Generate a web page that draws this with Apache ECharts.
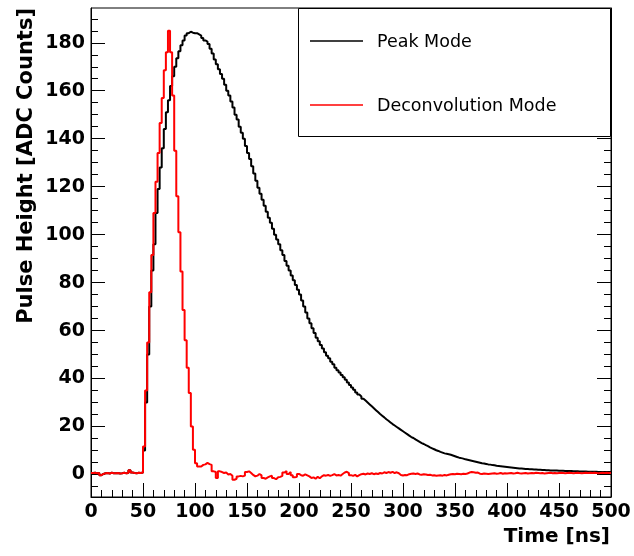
<!DOCTYPE html>
<html><head><meta charset="utf-8">
<script src="https://cdn.jsdelivr.net/npm/echarts@6/dist/echarts.min.js"></script>
<style>html,body{margin:0;padding:0;background:#fff}#c{width:634px;height:556px}</style>
</head><body><div id="c"></div>
<script>
// ---- data ----
const binWidth = 2; // ns per histogram bin
const xRange = [0, 500];
const yRange = [-9.4, 194.5];
const xTickStep = 50;
const yMajorTicks = [0, 20, 40, 60, 80, 100, 120, 140, 160, 180];
const yMinorTicks = [-5, 5, 10, 15, 25, 30, 35, 45, 50, 55, 65, 70, 75, 85, 90, 95, 105, 110, 115, 125, 130, 135, 145, 150, 155, 165, 170, 175, 185, 190];
const seriesNames = ['Peak Mode', 'Deconvolution Mode'];

const peakMode = [
  0.6,0.7,0.5,0.6,-0.3,0.2,0.5,0.6,0.4,0.7, 0.5,0.5,0.6,0.4,0.5,0.7,0.5,0.6,1.8,0.8, 0.6,0.5,0.7,0.6,0.8,
  10,30,50,70,85, 96,109,119,128,136, 144,151,156,162,166, 170,173.5,176.5,179,181, 183,184,184.6,184.2,184,
  184,183.5,183,182,181, 180.5,179.5,177.5,175.5,173, 171,169,167,165,162.5, 160,158,155.5,153,150, 148,145,142.5,140,137,
  134,131.5,128.5,125.5,122.5, 119.5,117,114.5,112,109.5, 107,105,102.5,100,98, 96,93.5,91.5,89,87, 85,83,81,79,77,
  75,72.5,70,67.5,65, 63,61,59,57,55.5, 54,52.5,51,49.5,48.5, 47,46,44.5,43.5,42.5, 41.5,40.5,39.5,38.3,37.3,
  36.3,35.3,34.2,33.3,32.5, 31.6,30.8,30,29.2,28.4, 27.6,26.8,26,25.2,24.5, 23.8,23,22.4,21.7,21, 20.4,19.8,19.2,18.6,18,
  17.4,16.8,16.2,15.6,15.2, 14.6,14.1,13.6,13.1,12.7, 12.2,11.8,11.3,10.9,10.5, 10.1,9.8,9.4,9.1,8.8, 8.6,8.4,8.2,7.9,7.6,
  7.3,7,6.8,6.6,6.3, 6.1,5.9,5.7,5.5,5.3, 5.1,4.9,4.7,4.6,4.4, 4.2,4.1,3.9,3.8,3.6, 3.5,3.4,3.3,3.2,3.1,
  3,2.9,2.8,2.7,2.6, 2.5,2.45,2.4,2.3,2.25, 2.2,2.15,2.1,2.05,2, 1.95,1.9,1.85,1.8,1.75, 1.7,1.65,1.6,1.6,1.55,
  1.5,1.5,1.45,1.4,1.4, 1.4,1.35,1.3,1.3,1.25, 1.25,1.2,1.2,1.15,1.15, 1.1,1.1,1.1,1.05,1.05, 1.05,1,1,1,1
];

const deconvMode = [
  0.6,0.7,0.5,0.6,-0.3,0.2,0.5,0.6,0.4,0.7, 0.5,0.5,0.6,0.4,0.5,0.7,0.5,0.6,1.8,0.8, 0.6,0.5,0.7,0.6,0.8,
  11.7,35,55,76,91.5, 109,122,134,146.5,157, 168.5,176,185,176,158, 135,116,101,84.6,68.6, 56,44.5,34,20,10.3,
  4.7,3.3,3.3,4,4.2, 4.8,4.3,4,1.3,1, -1.5,1.3,1,0.6,0.8, 0,0.2,-0.5,-2.2,-1.8, -0.8,-0.6,-0.8,-0.5,1,
  1.3,0.6,-0.2,-0.8,-0.5, 0.2,-0.4,-1.5,-1.8,-1.2, -0.8,-0.5,-1.5,-2,-1.2, -1,-0.6,0.8,1.4,0.2, 1,-0.3,-1.2,-1,0.2,
  -0.3,-0.5,0,-0.4,-0.8, -1.5,-1.2,-1.8,-1,-1.6, -0.8,-0.3,-0.5,-0.2,-0.6, -0.3,0.1,-0.4,-0.2,-0.5, 0.2,0.8,1.1,0.6,-0.3,
  -0.6,-0.2,-0.8,-0.3,0.1, 0.3,0,0.4,0.2,0.5, 0.1,0.4,0.2,0.6,0.4, 0.9,0.6,1,0.7,1.1, 0.6,0.9,0.5,-0.2,-0.4,
  -0.2,-0.3,0.1,0.3,0.4, 0.2,0.4,0,-0.1,0.1, 0,-0.2,-0.1,-0.4,-0.3, -0.5,-0.4,-0.3,-0.5,-0.2, -0.4,-0.1,0.1,0.2,0.1,
  0.3,0.2,0.1,0.3,0.2, 0.4,0.8,1,0.9,0.7, 0.8,0.3,0.2,0.4,0.3, 0.2,0.3,0.4,0.5,0.3, 0.4,0.6,0.3,0.5,0.4,
  0.5,0.6,0.4,0.5,0.7, 0.5,0.4,0.5,0.6,0.4, 0.5,0.6,0.5,0.7,0.6, 0.5,0.6,0.4,0.5,0.6, 0.7,0.5,0.6,0.5,0.6,
  0.7,0.6,0.5,0.6,0.7, 0.6,0.5,0.6,0.7,0.6, 0.5,0.6,0.7,0.6,0.7, 0.6,0.7,0.6,0.5,0.6, 0.7,0.6,0.7,0.6,0.7
];

// ---- build histogram step points from bins ----
function toSteps(vals) {
  const pts = vals.map((v, i) => [i * binWidth, v]);
  pts.push([vals.length * binWidth, vals[vals.length - 1]]);
  return pts;
}

const FONT = 'DejaVu Sans';
const black = '#000000';

function yAxisDef(position, ticks, len, showLabel, showLine) {
  return {
    type: 'value', position: position, min: yRange[0], max: yRange[1],
    axisLine: { show: showLine, onZero: false, lineStyle: { color: black, width: 1 } },
    axisTick: { show: true, inside: true, length: len, customValues: ticks, lineStyle: { color: black, width: 1 } },
    minorTick: { show: false },
    axisLabel: showLabel ? { show: true, customValues: ticks, color: black, fontFamily: FONT, fontWeight: 'bold', fontSize: 19, margin: 6 } : { show: false },
    splitLine: { show: false }
  };
}

const chart = echarts.init(document.getElementById('c'), null, { renderer: 'canvas' });
chart.setOption({
  animation: false,
  backgroundColor: '#ffffff',
  grid: { left: 91, right: 23, top: 8, bottom: 59, show: true, borderColor: black, borderWidth: 1, backgroundColor: 'transparent' },
  xAxis: {
    type: 'value', min: xRange[0], max: xRange[1], interval: xTickStep, position: 'bottom',
    axisLine: { show: true, onZero: false, lineStyle: { color: black, width: 1 } },
    axisTick: { show: true, inside: true, length: 14, lineStyle: { color: black, width: 1 } },
    minorTick: { show: true, splitNumber: 5, length: 7, lineStyle: { color: black, width: 1 } },
    axisLabel: { color: black, fontFamily: FONT, fontWeight: 'bold', fontSize: 19, margin: 6, showMinLabel: true, showMaxLabel: true },
    splitLine: { show: false }
  },
  yAxis: [
    yAxisDef('left', yMajorTicks, 14, true, true),
    yAxisDef('left', yMinorTicks, 7, false, false),
    yAxisDef('right', yMajorTicks, 14, false, true),
    yAxisDef('right', yMinorTicks, 7, false, false)
  ],
  series: [
    { name: seriesNames[0], type: 'line', step: 'end', data: toSteps(peakMode), yAxisIndex: 0,
      symbol: 'none', lineStyle: { color: black, width: 2 }, z: 2 },
    { name: seriesNames[1], type: 'line', step: 'end', data: toSteps(deconvMode), yAxisIndex: 0,
      symbol: 'none', lineStyle: { color: '#ff0000', width: 2 }, z: 3 }
  ],
  graphic: [
    { type: 'rect', z: 100, shape: { x: 298.5, y: 8.5, width: 312, height: 128 }, style: { fill: '#ffffff', stroke: black, lineWidth: 1 } },
    { type: 'line', z: 101, shape: { x1: 310, y1: 41, x2: 363, y2: 41 }, style: { stroke: black, lineWidth: 1.5 } },
    { type: 'text', z: 101, x: 377, y: 42.5, style: { text: seriesNames[0], fontFamily: FONT, fontSize: 17.5, fill: black, align: 'left', verticalAlign: 'middle' } },
    { type: 'line', z: 101, shape: { x1: 310, y1: 105, x2: 363, y2: 105 }, style: { stroke: '#ff0000', lineWidth: 1.5 } },
    { type: 'text', z: 101, x: 377, y: 106, style: { text: seriesNames[1], fontFamily: FONT, fontSize: 17.5, fill: black, align: 'left', verticalAlign: 'middle' } },
    { type: 'text', z: 101, x: 27, y: 8, rotation: Math.PI / 2, style: { text: 'Pulse Height [ADC Counts]', fontFamily: FONT, fontWeight: 'bold', fontSize: 21, fill: black, align: 'right', verticalAlign: 'middle' } },
    { type: 'text', z: 101, x: 610, y: 537, style: { text: 'Time [ns]', fontFamily: FONT, fontWeight: 'bold', fontSize: 20, fill: black, align: 'right', verticalAlign: 'middle' } }
  ]
});
</script>
</body></html>
